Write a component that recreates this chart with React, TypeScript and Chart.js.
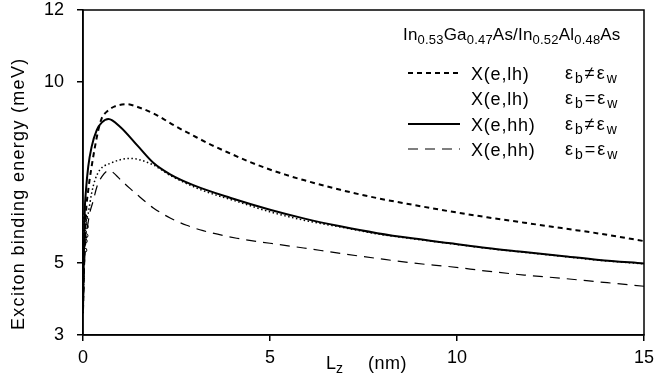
import React, { useEffect, useRef } from "react";
import { Chart, registerables } from "chart.js";

Chart.register(...registerables);

// ---- data ----
const xTickValues = [0, 5, 10, 15];
const yTickValues = [3, 5, 10, 12];

// X(e,lh) eps_b != eps_w  (short dash)
const lhNeqLz = [0, 0.04, 0.08, 0.14, 0.23, 0.32, 0.41, 0.5, 0.63, 0.85, 1.17, 1.5, 1.97, 2.46, 2.95, 3.44, 3.93, 4.42, 4.92, 5.41, 5.9, 6.88, 7.87, 8.85, 9.83, 10.8, 11.8, 12.8, 13.8, 15];
const lhNeqE = [3.7, 5.3, 6.38, 7.01, 7.66, 8.21, 8.68, 9.0, 9.18, 9.33, 9.39, 9.3, 9.09, 8.79, 8.52, 8.26, 8.03, 7.81, 7.61, 7.44, 7.29, 7.02, 6.79, 6.6, 6.42, 6.26, 6.11, 5.96, 5.81, 5.6];

// X(e,lh) eps_b = eps_w  (dotted)
const lhEqLz = [0, 0.05, 0.14, 0.23, 0.32, 0.45, 0.72, 1.26, 1.88, 2.33, 3.21, 4.11, 5.0, 5.9, 6.88, 7.87, 8.85, 9.83, 10.8, 11.8, 12.8, 13.8, 15];
const lhEqE = [3.6, 5.72, 6.37, 6.92, 7.29, 7.57, 7.75, 7.89, 7.71, 7.42, 7.0, 6.7, 6.41, 6.18, 5.99, 5.8, 5.66, 5.53, 5.4, 5.29, 5.18, 5.07, 4.97];

// X(e,hh) eps_b != eps_w  (solid)
const hhNeqLz = [0, 0.02, 0.045, 0.08, 0.14, 0.23, 0.37, 0.5, 0.68, 0.99, 1.47, 1.88, 2.33, 2.95, 3.93, 5.0, 5.9, 6.88, 7.87, 8.85, 9.83, 10.8, 11.8, 12.8, 13.8, 15];
const hhNeqE = [3.7, 5.0, 6.38, 7.01, 7.66, 8.21, 8.68, 8.88, 8.98, 8.77, 8.23, 7.77, 7.45, 7.15, 6.8, 6.47, 6.23, 6.01, 5.82, 5.67, 5.54, 5.41, 5.3, 5.19, 5.08, 4.98];

// X(e,hh) eps_b = eps_w  (long dash)
const hhEqLz = [0, 0.05, 0.15, 0.28, 0.37, 0.5, 0.68, 1.08, 1.43, 1.88, 2.33, 2.77, 3.21, 4.11, 5.0, 5.9, 6.88, 7.87, 8.85, 9.83, 10.8, 11.8, 12.8, 13.8, 15];
const hhEqE = [3.6, 5.2, 6.2, 6.74, 7.1, 7.38, 7.55, 7.22, 6.9, 6.52, 6.24, 6.04, 5.89, 5.68, 5.54, 5.41, 5.26, 5.12, 4.99, 4.89, 4.77, 4.66, 4.57, 4.47, 4.35];

// small open-circle markers near the origin
const markLz = [0.03, 0.05, 0.04, 0.07, 0.06, 0.09, 0.05, 0.08];
const markE = [6.3, 6.1, 5.85, 6.25, 5.6, 6.0, 5.35, 5.75];

const legendLabels = ["X(e,lh)", "X(e,lh)", "X(e,hh)", "X(e,hh)"];
const legendNeq = [true, false, true, false];
const legendShowSample = [true, false, true, true];

const FONT = "'Liberation Sans', Arial, Helvetica, sans-serif";

const pts = (xs: number[], ys: number[]) => xs.map((x, i) => ({ x, y: ys[i] }));

function drawRich(ctx: CanvasRenderingContext2D, parts: [string, boolean][], x: number, y: number, size: number, subSize: number, spacing: number) {
  let cx = x;
  for (const [t, sub] of parts) {
    ctx.font = `${sub ? subSize : size}px ${FONT}`;
    (ctx as any).letterSpacing = `${spacing}px`;
    ctx.fillText(t, cx, sub ? y + 4 : y);
    cx += ctx.measureText(t).width;
  }
  (ctx as any).letterSpacing = "0px";
  return cx;
}

const textPlugin = {
  id: "textPlugin",
  afterDraw(chart: any) {
    const ctx: CanvasRenderingContext2D = chart.ctx;
    const a = chart.chartArea;
    ctx.save();
    // frame
    ctx.strokeStyle = "#000";
    ctx.lineWidth = 1.5;
    ctx.strokeRect(a.left, a.top, a.right - a.left, a.bottom - a.top);

    ctx.fillStyle = "#000";
    ctx.textBaseline = "alphabetic";
    ctx.textAlign = "left";

    // y title
    ctx.save();
    ctx.translate(24, 330);
    ctx.rotate(-Math.PI / 2);
    ctx.textAlign = "left";
    ctx.font = `18px ${FONT}`;
    (ctx as any).letterSpacing = "1.3px";
    ctx.fillText("Exciton binding energy (meV)", 0, 0);
    (ctx as any).letterSpacing = "0px";
    ctx.restore();

    // x title
    drawRich(ctx, [["L", false], ["z", true]], 326, 369, 18, 14, 0);
    drawRich(ctx, [["(nm)", false]], 368, 369, 18, 14, 0.5);

    // legend title
    drawRich(
      ctx,
      [["In", false], ["0.53", true], ["Ga", false], ["0.47", true], ["As/In", false], ["0.52", true], ["Al", false], ["0.48", true], ["As", false]],
      403, 40, 17, 13, 0.2
    );

    // legend rows
    const rowsY = [73, 98, 124, 149];
    const ds = chart.data.datasets;
    for (let i = 0; i < 4; i++) {
      const y = rowsY[i];
      if (legendShowSample[i]) {
        const d = ds[i];
        ctx.save();
        ctx.strokeStyle = d.borderColor;
        ctx.lineWidth = d.borderWidth;
        ctx.setLineDash(d.borderDash || []);
        ctx.beginPath();
        ctx.moveTo(408, y);
        ctx.lineTo(460, y);
        ctx.stroke();
        ctx.restore();
      }
      drawRich(ctx, [[legendLabels[i], false]], 471, y + 7, 18, 14, 0.8);
      drawRich(ctx, [["ε", false], ["b", true], [legendNeq[i] ? "≠" : "=", false], ["ε", false], ["w", true]], 565, y + 6, 18, 14, 2);
    }
    ctx.restore();
  },
};

export default function App() {
  const ref = useRef<HTMLCanvasElement | null>(null);
  useEffect(() => {
    if (!ref.current) return;
    const tickFont = { family: FONT, size: 18 };
    const chart = new Chart(ref.current, {
      type: "line",
      data: {
        datasets: [
          { label: "X(e,lh) eb!=ew", data: pts(lhNeqLz, lhNeqE), borderColor: "#000", borderWidth: 2, borderDash: [5, 4], pointRadius: 0, cubicInterpolationMode: "monotone", fill: false },
          { label: "X(e,lh) eb=ew", data: pts(lhEqLz, lhEqE), borderColor: "#000", borderWidth: 1.5, borderDash: [1.5, 2.5], pointRadius: 0, cubicInterpolationMode: "monotone", fill: false },
          { label: "X(e,hh) eb!=ew", data: pts(hhNeqLz, hhNeqE), borderColor: "#000", borderWidth: 2, pointRadius: 0, cubicInterpolationMode: "monotone", fill: false },
          { label: "X(e,hh) eb=ew", data: pts(hhEqLz, hhEqE), borderColor: "#000", borderWidth: 1.2, borderDash: [10, 7], pointRadius: 0, cubicInterpolationMode: "monotone", fill: false },
          { label: "markers", data: pts(markLz, markE), showLine: false, pointRadius: 2, pointStyle: "circle", borderColor: "#000", backgroundColor: "#fff", borderWidth: 1 },
        ] as any,
      },
      options: {
        animation: false,
        responsive: false,
        devicePixelRatio: 1,
        layout: { padding: { top: 10, right: 11, left: 0, bottom: 0 } },
        plugins: { legend: { display: false }, tooltip: { enabled: false }, title: { display: false } },
        scales: {
          x: {
            type: "linear",
            min: 0,
            max: 15,
            afterBuildTicks: (s: any) => { s.ticks = xTickValues.map((v) => ({ value: v })); },
            afterFit: (s: any) => { s.height = 44; s.paddingLeft = 0; s.paddingRight = 0; },
            ticks: { font: tickFont, color: "#000", padding: 6, maxRotation: 0, autoSkip: false },
            grid: { drawOnChartArea: false, tickLength: 6, color: "#000", lineWidth: 1.5 },
            border: { color: "#000", width: 1.5 },
          },
          y: {
            type: "linear",
            min: 3,
            max: 12,
            afterBuildTicks: (s: any) => { s.ticks = yTickValues.map((v) => ({ value: v })); },
            afterFit: (s: any) => { s.width = 83; s.paddingTop = 0; s.paddingBottom = 0; },
            ticks: { font: tickFont, color: "#000", padding: 13, autoSkip: false },
            grid: { drawOnChartArea: false, tickLength: 6, color: "#000", lineWidth: 1.5 },
            border: { color: "#000", width: 1.5 },
          },
        },
      } as any,
      plugins: [textPlugin],
    });
    return () => chart.destroy();
  }, []);
  return (
    <div style={{ position: "absolute", left: 0, top: 0, width: 655, height: 379, background: "#fff" }}>
      <canvas ref={ref} width={655} height={379} style={{ display: "block" }} />
    </div>
  );
}
